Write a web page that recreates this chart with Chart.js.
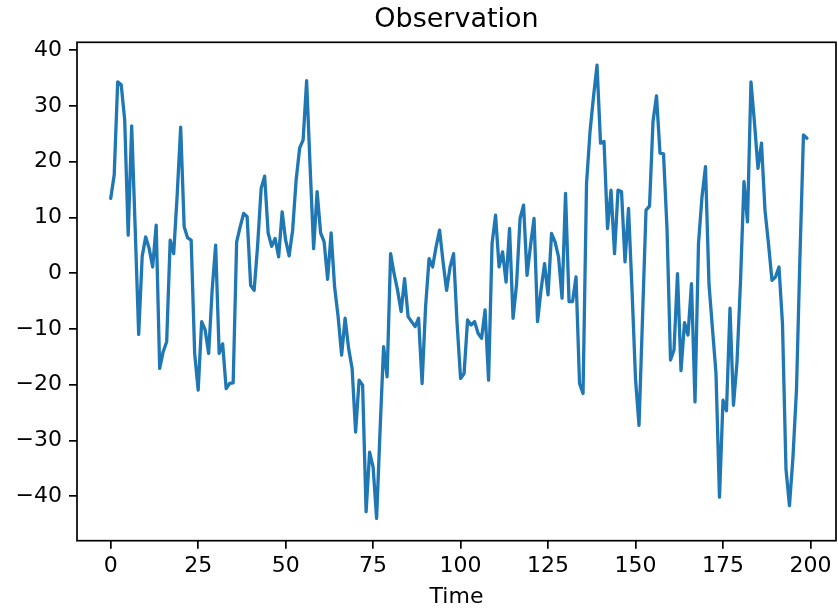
<!DOCTYPE html>
<html>
<head>
<meta charset="utf-8">
<script src="https://cdn.jsdelivr.net/npm/chart.js@4.4.1/dist/chart.umd.min.js"></script>
<style>
  html, body { margin: 0; padding: 0; background: #fff; }
  canvas { display: block; }
</style>
</head>
<body>
<canvas id="chart" width="838" height="611"></canvas>
<script>
// data
const obs000 = [
  13.4, 17.6, 34.3, 33.8, 27.5, 6.8, 26.4, 8, -11.0, 3.0,
  6.5, 4.4, 1.1, 8.6, -17.1, -14.1, -12.3, 5.9, 3.5, 14,
  26.2, 8.3, 6.3, 5.9, -14.4, -21.0, -8.7, -10.2, -14.4, -3,
  5.0, -14.4, -12.7, -20.7, -19.8, -19.7, 5.6, 8.3, 10.7, 10.1,
  -2.2, -3.1, 5, 15.2, 17.4, 7.2, 4.8, 6.2, 2.9, 11.0
];
const obs050 = [
  5.9, 3.1, 7.7, 16.7, 22.4, 23.9, 34.5, 19, 4.4, 14.6,
  7.2, 5.6, -1.1, 7.2, -2.5, -7.8, -14.7, -8.1, -13.5, -17.1,
  -28.5, -19.2, -20.1, -42.8, -32.1, -34.8, -44.0, -28, -13.2, -18.6,
  3.5, -0.1, -3.1, -6.9, -1.0, -7.8, -8.7, -9.6, -8.1, -19.8,
  -6, 2.6, 1.1, 4.7, 7.7, 2, -3.1, 1.1, 3.5, -9
];
const obs100 = [
  -18.9, -18.0, -8.4, -9.3, -8.7, -10.8, -11.7, -6.6, -19.2, 5.3,
  10.4, 1.1, 3.8, -1.6, 8.0, -8.1, -2, 9.8, 12.2, -0.4,
  5, 9.8, -8.7, -3, 1.7, -3.9, 7.1, 5.6, 2.9, -4.5,
  14.3, -5.1, -5.1, -0.7, -19.8, -21.6, 16.1, 25.4, 31.7, 37.3,
  23.3, 23.6, 8.0, 14.9, 3.5, 14.9, 14.6, 2.0, 11.6, -3
];
const obs150 = [
  -19, -27.3, -8, 11.3, 12.0, 27.2, 31.8, 21.5, 21.4, 8,
  -15.6, -13.8, -0.1, -17.5, -8.9, -11.1, -1.9, -23.1, 5.3, 13.7,
  19.1, -2, -10, -18, -40.2, -22.8, -24.7, -6.3, -23.7, -16,
  -1.6, 16.4, 9.2, 34.3, 27, 18.8, 23.3, 11.3, 5.3, -1.3,
  -0.7, 1.1, -9.0, -35.1, -41.7, -33, -21.0, 3, 24.8, 24.2
];
const observation = obs000.concat(obs050, obs100, obs150);
const time = observation.map((_, i) => i);

const xTicks = [0, 25, 50, 75, 100, 125, 150, 175, 200];
const yTicks = [-40, -30, -20, -10, 0, 10, 20, 30, 40];

const FONT = 'DejaVu Sans';
const INK = '#000000';

// matplotlib draws all four spines
const spines = {
  id: 'spines',
  afterDatasetsDraw(chart) {
    const {ctx, chartArea: a} = chart;
    ctx.save();
    ctx.strokeStyle = INK;
    ctx.lineWidth = 1.7;
    ctx.strokeRect(a.left, a.top, a.right - a.left, a.bottom - a.top);
    ctx.restore();
  }
};

const minus = (v) => String(v).replace('-', '\u2212');

new Chart(document.getElementById('chart'), {
  type: 'line',
  data: {
    datasets: [{
      data: time.map((t, i) => ({x: t, y: observation[i]})),
      borderColor: '#1f77b4',
      borderWidth: 3.3,
      borderJoinStyle: 'round',
      borderCapStyle: 'round',
      pointRadius: 0,
      tension: 0,
      fill: false,
    }]
  },
  options: {
    responsive: false,
    animation: false,
    layout: {padding: {left: 0, right: 2, top: 0, bottom: 0}},
    plugins: {
      legend: {display: false},
      tooltip: {enabled: false},
      title: {
        display: true,
        text: 'Observation',
        fullSize: false,
        color: INK,
        font: {family: FONT, size: 27, weight: 'normal'},
        padding: {top: 3.5, bottom: 6.4},
      },
    },
    scales: {
      x: {
        type: 'linear',
        min: -9.63,
        max: 207.3,
        afterFit: (s) => { s.height = 70.3; },
        afterBuildTicks: (s) => { s.ticks = xTicks.map(v => ({value: v})); },
        ticks: {
          color: INK,
          font: {family: FONT, size: 22},
          padding: 4.5,
          maxRotation: 0,
          callback: (v) => minus(v),
        },
        grid: {drawOnChartArea: false, drawTicks: true, tickLength: 8, color: INK, lineWidth: 1.7},
        border: {display: false},
        title: {
          display: true,
          text: 'Time',
          color: INK,
          font: {family: FONT, size: 22},
          padding: {top: 0, bottom: 0.5},
        },
      },
      y: {
        type: 'linear',
        min: -48.0,
        max: 41.4,
        afterFit: (s) => { s.width = 77; },
        afterBuildTicks: (s) => { s.ticks = yTicks.map(v => ({value: v})); },
        ticks: {
          color: INK,
          font: {family: FONT, size: 22},
          padding: 7,
          callback: (v) => minus(v),
        },
        grid: {drawOnChartArea: false, drawTicks: true, tickLength: 8, color: INK, lineWidth: 1.7},
        border: {display: false},
      },
    },
  },
  plugins: [spines],
});
</script>
</body>
</html>
